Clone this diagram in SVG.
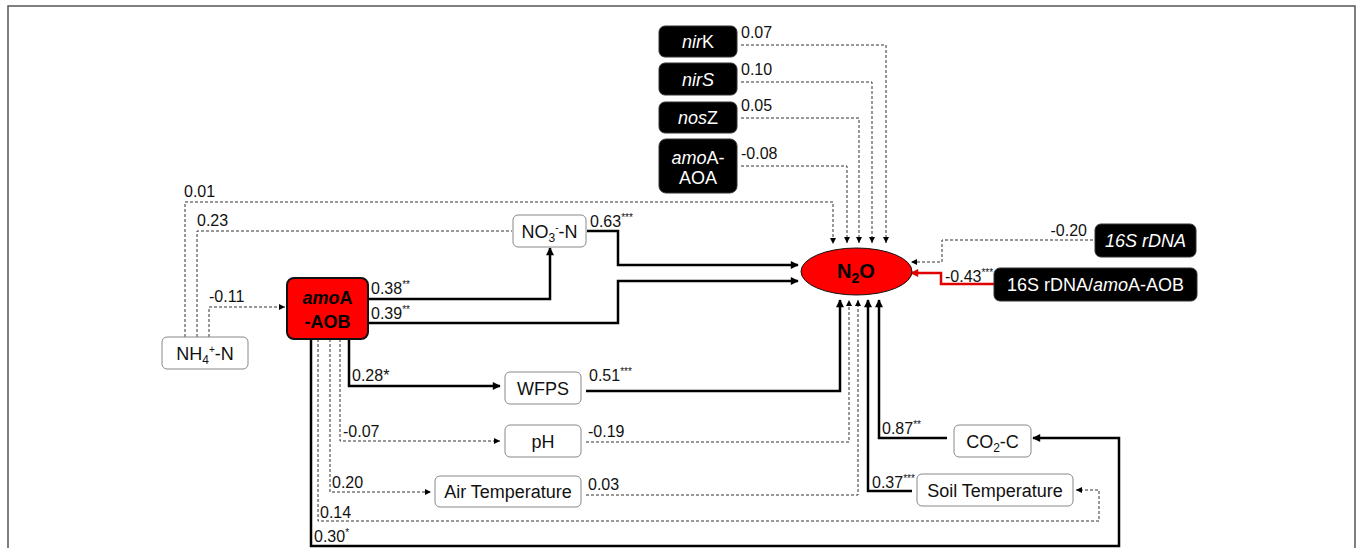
<svg xmlns="http://www.w3.org/2000/svg" width="1360" height="548" viewBox="0 0 1360 548">
<defs>
<style>
.frame{fill:none;stroke:#555;stroke-width:1.5}
.d{fill:none;stroke:#333;stroke-width:1;stroke-dasharray:3,2;marker-end:url(#ad)}
.dn{fill:none;stroke:#333;stroke-width:1;stroke-dasharray:3,2}
.s{fill:none;stroke:#000;stroke-width:2.5;marker-end:url(#as)}
.r{fill:none;stroke:#e00000;stroke-width:2.5;marker-end:url(#ar)}
.wb{fill:#fff;stroke:#888;stroke-width:1}
.bb{fill:#000;stroke:#333;stroke-width:1}
.lab{font-family:"Liberation Sans",Arial,sans-serif;font-size:16px;fill:#111}
.nt{font-family:"Liberation Sans",Arial,sans-serif;font-size:18px;fill:#111;text-anchor:middle}
.wt{font-family:"Liberation Sans",Arial,sans-serif;font-size:18px;fill:#fff;text-anchor:middle}
.it{font-style:italic}
.sup{font-size:10px}
.sub{font-size:12px}
</style>
<marker id="ad" viewBox="0 0 10 10" refX="10" refY="5" markerUnits="userSpaceOnUse" markerWidth="7" markerHeight="6" orient="auto"><path d="M0,0 L10,5 L0,10 z" fill="#000"/></marker>
<marker id="as" viewBox="0 0 10 10" refX="9" refY="5" markerUnits="userSpaceOnUse" markerWidth="9" markerHeight="8" orient="auto"><path d="M0,0 L10,5 L0,10 z" fill="#000"/></marker>
<marker id="ar" viewBox="0 0 10 10" refX="9" refY="5" markerUnits="userSpaceOnUse" markerWidth="9" markerHeight="8" orient="auto"><path d="M0,0 L10,5 L0,10 z" fill="#e00000"/></marker>
</defs>
<rect width="1360" height="548" fill="#fff"/>
<path class="frame" d="M8,548 V6 H1355 V548"/>

<g id="connectors">
<path class="d" d="M741,45 H886 V243"/>
<path class="d" d="M741,82 H872 V243"/>
<path class="d" d="M741,118 H859 V243"/>
<path class="d" d="M741,166 H847 V243"/>
<path class="d" d="M185,337 V202 H833 V244"/>
<path class="dn" d="M197,337 V231 H512"/>
<path class="d" d="M209,337 V307 H285"/>
<path class="d" d="M340,339 V441 H500"/>
<path class="d" d="M330,339 V492 H431"/>
<path class="d" d="M318,339 V521 H1099 V490 H1076"/>
<path class="d" d="M586,442 H849 V300"/>
<path class="d" d="M586,495 H858 V300"/>
<path class="d" d="M1093,240 H942 V262 H911"/>
<path class="s" d="M587,231 H618 V265 H798"/>
<path class="s" d="M368,299 H550 V248"/>
<path class="s" d="M368,323 H618 V281 H798"/>
<path class="s" d="M349,339 V386 H500"/>
<path class="s" d="M311,339 V546 H1119 V438 H1033"/>
<path class="s" d="M586,391 H840 V300"/>
<path class="s" d="M912,491 H868 V300"/>
<path class="s" d="M947,438 H879 V300"/>
<path class="r" d="M994,284 H941 V273 H911"/>
</g>

<g id="labels">
<text class="lab" x="741" y="38">0.07</text>
<text class="lab" x="741" y="75">0.10</text>
<text class="lab" x="741" y="111">0.05</text>
<text class="lab" x="741" y="159">-0.08</text>
<text class="lab" x="184" y="197">0.01</text>
<text class="lab" x="197" y="226">0.23</text>
<text class="lab" x="209" y="302">-0.11</text>
<text class="lab" x="590" y="227">0.63<tspan class="sup" dy="-6">***</tspan></text>
<text class="lab" x="371" y="294">0.38<tspan class="sup" dy="-6">**</tspan></text>
<text class="lab" x="371" y="319">0.39<tspan class="sup" dy="-6">**</tspan></text>
<text class="lab" x="352" y="381">0.28*</text>
<text class="lab" x="343" y="437">-0.07</text>
<text class="lab" x="332" y="488">0.20</text>
<text class="lab" x="320" y="518">0.14</text>
<text class="lab" x="314" y="542">0.30<tspan class="sup" dy="-6">*</tspan></text>
<text class="lab" x="589" y="381">0.51<tspan class="sup" dy="-6">***</tspan></text>
<text class="lab" x="588" y="437">-0.19</text>
<text class="lab" x="588" y="490">0.03</text>
<text class="lab" x="882" y="434">0.87<tspan class="sup" dy="-6">**</tspan></text>
<text class="lab" x="872" y="488">0.37<tspan class="sup" dy="-6">***</tspan></text>
<text class="lab" x="1087" y="236" text-anchor="end">-0.20</text>
<text class="lab" x="945" y="282">-0.43<tspan class="sup" dy="-6">***</tspan></text>
</g>

<g id="nirK"><rect class="bb" x="659" y="26" width="78" height="31" rx="6"/><text class="wt" x="698" y="48"><tspan class="it">nir</tspan>K</text></g>
<g id="nirS"><rect class="bb" x="659" y="63" width="78" height="32" rx="6"/><text class="wt it" x="698" y="85.5">nirS</text></g>
<g id="nosZ"><rect class="bb" x="659" y="102" width="78" height="31" rx="6"/><text class="wt" x="698" y="124"><tspan class="it">nos</tspan>Z</text></g>
<g id="amoA-AOA"><rect class="bb" x="659" y="139" width="78" height="54" rx="7"/><text class="wt" x="698" y="164"><tspan class="it">amo</tspan>A-</text><text class="wt" x="698" y="184">AOA</text></g>

<g id="NO3-N"><rect class="wb" x="513" y="215" width="73" height="32" rx="5"/><text class="nt" x="549.5" y="237.5">NO<tspan class="sub" dy="4">3</tspan><tspan class="sup" dy="-11">-</tspan><tspan dy="7">-N</tspan></text></g>
<g id="NH4-N"><rect class="wb" x="162" y="337" width="86" height="32" rx="5"/><text class="nt" x="205" y="359.5">NH<tspan class="sub" dy="4">4</tspan><tspan class="sup" dy="-11">+</tspan><tspan dy="7">-N</tspan></text></g>
<g id="amoA-AOB"><rect x="287" y="278" width="81" height="61" rx="7" fill="#ff0000" stroke="#111" stroke-width="2"/><text class="nt" x="327.5" y="304" style="font-weight:bold;fill:#000"><tspan class="it">amo</tspan>A</text><text class="nt" x="327.5" y="328" style="font-weight:bold;fill:#000">-AOB</text></g>
<g id="N2O"><ellipse cx="856.5" cy="271.5" rx="55.5" ry="23.5" fill="#ff0000" stroke="#111" stroke-width="1"/><text class="nt" x="856" y="278" style="font-weight:bold;font-size:20px;fill:#000">N<tspan dy="5" style="font-size:14px">2</tspan><tspan dy="-5">O</tspan></text></g>
<g id="16SrDNA"><rect class="bb" x="1095" y="224" width="101" height="33" rx="6"/><text class="wt it" x="1145.5" y="247">16S rDNA</text></g>
<g id="16SrDNA-amoA-AOB"><rect class="bb" x="994" y="268" width="203" height="33" rx="6"/><text class="wt" x="1095.5" y="291">16S rDNA/<tspan class="it">amo</tspan>A-AOB</text></g>
<g id="WFPS"><rect class="wb" x="505" y="372" width="76" height="32" rx="5"/><text class="nt" x="543" y="394.5">WFPS</text></g>
<g id="pH"><rect class="wb" x="505" y="425" width="76" height="32" rx="5"/><text class="nt" x="543" y="447.5">pH</text></g>
<g id="AirTemperature"><rect class="wb" x="435" y="476" width="146" height="31" rx="5"/><text class="nt" x="508" y="498">Air Temperature</text></g>
<g id="CO2-C"><rect class="wb" x="954" y="425" width="77" height="32" rx="5"/><text class="nt" x="992.5" y="447.5">CO<tspan class="sub" dy="4">2</tspan><tspan dy="-4">-C</tspan></text></g>
<g id="SoilTemperature"><rect class="wb" x="917" y="474" width="156" height="32" rx="5"/><text class="nt" x="995" y="496.5">Soil Temperature</text></g>
</svg>
